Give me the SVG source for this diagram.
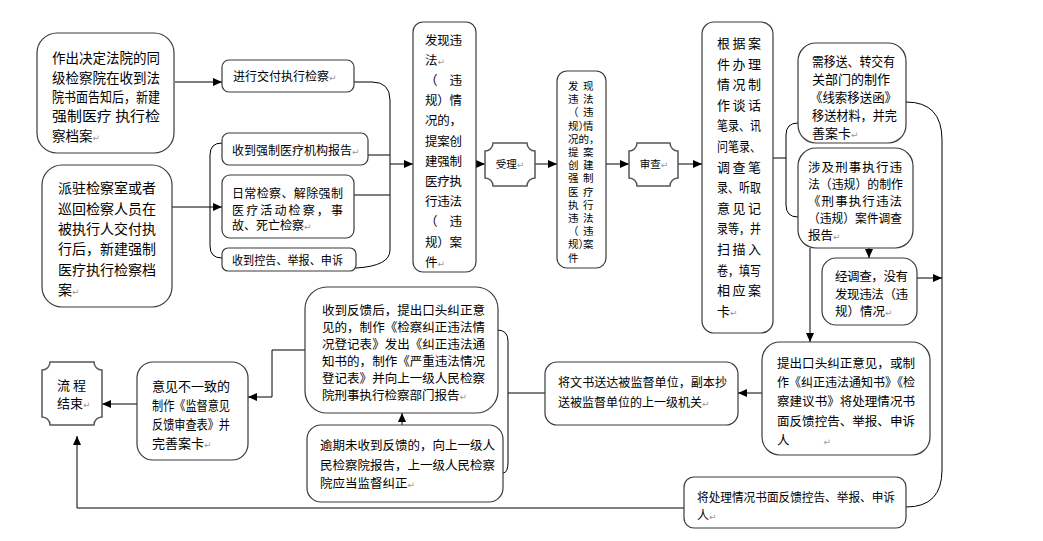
<svg xmlns="http://www.w3.org/2000/svg" width="1043" height="541" viewBox="0 0 1043 541">
<defs>
<marker id="ah" markerWidth="9" markerHeight="8" refX="9" refY="4" orient="auto" markerUnits="userSpaceOnUse"><path d="M0,0 L9,4 L0,8 Z" fill="#000"/></marker>
<style>
.box{fill:#fff;stroke:#3a3a3a;stroke-width:1.2}
.pq{fill:#fff;stroke:#555;stroke-width:1.5}
.t{font-family:"Noto Sans CJK SC","Noto Sans CJK JP",sans-serif;fill:#000}
.pm{fill:#9a9a9a;font-size:9px;font-family:"DejaVu Sans",sans-serif}
.c{fill:none;stroke:#000;stroke-width:1}
.a{marker-end:url(#ah)}
</style>
</defs>
<rect width="1043" height="541" fill="#fff"/>
<g id="connectors">
<path class="c a" d="M175,82 H222"/>
<path class="c a" d="M172,207 H222"/>
<path class="c" d="M222,143 Q210,143 210,155 V246 Q210,258 222,258"/>
<path class="c" d="M354,82 H372 Q390,82 390,100 V250 Q390,266 356,268"/>
<path class="c" d="M368,155 H390"/>
<path class="c" d="M354,195 H390"/>
<path class="c a" d="M390,164 H413"/>
<path class="c a" d="M476,164 H485"/>
<path class="c a" d="M535,164 H557"/>
<path class="c a" d="M606,164 H629"/>
<path class="c a" d="M678,164 H702"/>
<path class="c" d="M773,158 H786"/>
<path class="c" d="M798,123 Q786,123 786,135 V205 Q786,217 798,217"/>
<path class="c a" d="M869,248 V258"/>
<path class="c a" d="M810,248 V342"/>
<path class="c" d="M906,102 Q942,102 942,140 V470 Q942,507 906,507"/>
<path class="c a" d="M917,278 H942"/>
<path class="c a" d="M762,393 H738"/>
<path class="c" d="M545,393 H508"/>
<path class="c" d="M497,330 Q508,330 508,341 V462 Q508,473 503,473"/>
<path class="c a" d="M402,425 V413"/>
<path class="c a" d="M305,350 H272 V397 H248"/>
<path class="c a" d="M137,404 H102"/>
<path class="c a" d="M684,508 H77 V436"/>
</g>
<g id="n1">
<rect class="box" x="37" y="33" width="137" height="120" rx="20"/>
<text class="t" font-size="13.5" x="52" y="63" textLength="108" lengthAdjust="spacingAndGlyphs">作出决定法院的同</text>
<text class="t" font-size="13.5" x="52" y="83" textLength="108" lengthAdjust="spacingAndGlyphs">级检察院在收到法</text>
<text class="t" font-size="13.5" x="52" y="102" textLength="108" lengthAdjust="spacingAndGlyphs">院书面告知后，新建</text>
<text class="t" font-size="13.5" x="52" y="121" textLength="108" lengthAdjust="spacingAndGlyphs">强制医疗 执行检</text>
<text class="t" font-size="13.5" x="52" y="141">察档案<tspan class="pm">↵</tspan></text>
</g>
<g id="n2">
<rect class="box" x="42" y="165" width="130" height="142" rx="20"/>
<text class="t" font-size="14" x="58" y="193" textLength="98">派驻检察室或者</text>
<text class="t" font-size="14" x="58" y="213.5" textLength="98">巡回检察人员在</text>
<text class="t" font-size="14" x="58" y="234" textLength="98">被执行人交付执</text>
<text class="t" font-size="14" x="58" y="254" textLength="98">行后，新建强制</text>
<text class="t" font-size="14" x="58" y="274.5" textLength="98">医疗执行检察档</text>
<text class="t" font-size="14" x="58" y="295">案<tspan class="pm">↵</tspan></text>
</g>
<g id="n3">
<rect class="box" x="222" y="60" width="132" height="32" rx="7"/>
<text class="t" font-size="12" x="233" y="81">进行交付执行检察<tspan class="pm">↵</tspan></text>
</g>
<g id="n4">
<rect class="box" x="222" y="133" width="146" height="32" rx="7"/>
<text class="t" font-size="12" x="232" y="155">收到强制医疗机构报告<tspan class="pm">↵</tspan></text>
</g>
<g id="n5">
<rect class="box" x="222" y="175" width="132" height="63" rx="8"/>
<text class="t" font-size="12" x="232" y="197.5" textLength="111">日常检察、解除强制</text>
<text class="t" font-size="12" x="232" y="214.5" textLength="111">医疗活动检察，事</text>
<text class="t" font-size="12" x="232" y="229.5">故、死亡检察<tspan class="pm">↵</tspan></text>
</g>
<g id="n6">
<rect class="box" x="222" y="248" width="134" height="23" rx="6"/>
<text class="t" font-size="12" x="232" y="265" textLength="111" lengthAdjust="spacingAndGlyphs">收到控告、举报、申诉</text>
</g>
<g id="n7">
<rect class="box" x="413" y="22" width="63" height="250" rx="10"/>
<text class="t" font-size="12.5" x="425" y="44.5" textLength="37">发现违</text>
<text class="t" font-size="12.5" x="425" y="64.7">法<tspan class="pm">↵</tspan></text>
<text class="t" font-size="12.5" x="425 449.5" y="84.9">（违</text>
<text class="t" font-size="12.5" x="425" y="105.1" textLength="37">规）情</text>
<text class="t" font-size="12.5" x="425" y="125.3" textLength="37">况的，</text>
<text class="t" font-size="12.5" x="425" y="145.5" textLength="37">提案创</text>
<text class="t" font-size="12.5" x="425" y="165.7" textLength="37">建强制</text>
<text class="t" font-size="12.5" x="425" y="185.9" textLength="37">医疗执</text>
<text class="t" font-size="12.5" x="425" y="206.1" textLength="37">行违法</text>
<text class="t" font-size="12.5" x="425 449.5" y="226.3">（违</text>
<text class="t" font-size="12.5" x="425" y="246.5" textLength="37">规）案</text>
<text class="t" font-size="12.5" x="425" y="266.7">件<tspan class="pm">↵</tspan></text>
</g>
<g id="n8">
<path class="pq" d="M493,143 H527 A8,8 0 0 0 535,151 V178 A8,8 0 0 0 527,186 H493 A8,8 0 0 0 485,178 V151 A8,8 0 0 0 493,143 Z"/>
<text class="t" font-size="10.5" x="510" y="168" text-anchor="middle">受理<tspan class="pm" font-size="7">↵</tspan></text>
</g>
<g id="n9">
<rect class="box" x="557" y="71" width="49" height="197" rx="10"/>
<text class="t" font-size="10.5" x="568 583" y="90">发现</text>
<text class="t" font-size="10.5" x="568 583" y="103.2">违法</text>
<text class="t" font-size="10.5" x="568 583" y="116.4">（违</text>
<text class="t" font-size="10.5" x="568 578.5 583" y="129.6">规）情</text>
<text class="t" font-size="10.5" x="568 578.5 589" y="142.8">况的，</text>
<text class="t" font-size="10.5" x="568 583" y="156">提案</text>
<text class="t" font-size="10.5" x="568 583" y="169.2">创建</text>
<text class="t" font-size="10.5" x="568 583" y="182.4">强制</text>
<text class="t" font-size="10.5" x="568 583" y="195.6">医疗</text>
<text class="t" font-size="10.5" x="568 583" y="208.8">执行</text>
<text class="t" font-size="10.5" x="568 583" y="222">违法</text>
<text class="t" font-size="10.5" x="568 583" y="235.2">（违</text>
<text class="t" font-size="10.5" x="568 578.5 583" y="248.4">规）案</text>
<text class="t" font-size="10.5" x="568" y="261.6">件</text>
</g>
<g id="n10">
<path class="pq" d="M637,143 H670 A8,8 0 0 0 678,151 V178 A8,8 0 0 0 670,186 H637 A8,8 0 0 0 629,178 V151 A8,8 0 0 0 637,143 Z"/>
<text class="t" font-size="10.5" x="654" y="168" text-anchor="middle">审查<tspan class="pm" font-size="7">↵</tspan></text>
</g>
<g id="n11">
<rect class="box" x="702" y="22" width="71" height="311" rx="12"/>
<text class="t" font-size="13" x="717" y="48" textLength="44">根据案</text>
<text class="t" font-size="13" x="717" y="68.6" textLength="44">件办理</text>
<text class="t" font-size="13" x="717" y="89.2" textLength="44">情况制</text>
<text class="t" font-size="13" x="717" y="109.8" textLength="44">作谈话</text>
<text class="t" font-size="13" x="717" y="130.4" textLength="44" lengthAdjust="spacingAndGlyphs">笔录、讯</text>
<text class="t" font-size="13" x="717" y="151" textLength="44" lengthAdjust="spacingAndGlyphs">问笔录、</text>
<text class="t" font-size="13" x="717" y="171.6" textLength="44">调查笔</text>
<text class="t" font-size="13" x="717" y="192.2" textLength="44" lengthAdjust="spacingAndGlyphs">录、听取</text>
<text class="t" font-size="13" x="717" y="212.8" textLength="44">意见记</text>
<text class="t" font-size="13" x="717" y="233.4" textLength="44" lengthAdjust="spacingAndGlyphs">录等，并</text>
<text class="t" font-size="13" x="717" y="254" textLength="44">扫描入</text>
<text class="t" font-size="13" x="717" y="274.6" textLength="44" lengthAdjust="spacingAndGlyphs">卷，填写</text>
<text class="t" font-size="13" x="717" y="295.2" textLength="44">相应案</text>
<text class="t" font-size="13" x="717" y="315.8">卡<tspan class="pm">↵</tspan></text>
</g>
<g id="n12">
<rect class="box" x="798" y="43" width="108" height="100" rx="18"/>
<text class="t" font-size="13" x="812" y="66" textLength="83" lengthAdjust="spacingAndGlyphs">需移送、转交有</text>
<text class="t" font-size="13" x="812" y="84">关部门的制作</text>
<text class="t" font-size="13" x="810" y="102" textLength="87" lengthAdjust="spacingAndGlyphs">《线索移送函》</text>
<text class="t" font-size="13" x="812" y="120" textLength="85" lengthAdjust="spacingAndGlyphs">移送材料，并完</text>
<text class="t" font-size="13" x="812" y="138">善案卡<tspan class="pm">↵</tspan></text>
</g>
<g id="n13">
<rect class="box" x="798" y="148" width="115" height="100" rx="18"/>
<text class="t" font-size="12.5" x="808" y="172" textLength="94">涉及刑事执行违</text>
<text class="t" font-size="12.5" x="808" y="189" textLength="95" lengthAdjust="spacingAndGlyphs">法（违规）的制作</text>
<text class="t" font-size="12.5" x="808" y="206" textLength="94">《刑事执行违法</text>
<text class="t" font-size="12.5" x="808" y="223" textLength="94" lengthAdjust="spacingAndGlyphs">（违规）案件调查</text>
<text class="t" font-size="12.5" x="808" y="240">报告<tspan class="pm">↵</tspan></text>
</g>
<g id="n14">
<rect class="box" x="822" y="258" width="95" height="67" rx="14"/>
<text class="t" font-size="12.5" x="835" y="281" textLength="73">经调查，没有</text>
<text class="t" font-size="12.5" x="835" y="298.5" textLength="73">发现违法（违</text>
<text class="t" font-size="12.5" x="835" y="316">规）情况<tspan class="pm" font-size="7">↵</tspan></text>
</g>
<g id="n15">
<rect class="box" x="762" y="342" width="168" height="113" rx="18"/>
<text class="t" font-size="12.5" x="777" y="368" textLength="138" lengthAdjust="spacingAndGlyphs">提出口头纠正意见，或制</text>
<text class="t" font-size="12.5" x="777" y="387.2" textLength="138" lengthAdjust="spacingAndGlyphs">作《纠正违法通知书》《检</text>
<text class="t" font-size="12.5" x="777" y="406.4" textLength="138" lengthAdjust="spacingAndGlyphs">察建议书》将处理情况书</text>
<text class="t" font-size="12.5" x="777" y="425.6" textLength="138" lengthAdjust="spacingAndGlyphs">面反馈控告、举报、申诉</text>
<text class="t" font-size="12.5" x="777" y="444.8">人<tspan class="pm" font-size="7" dx="34">↵</tspan></text>
</g>
<g id="n16">
<rect class="box" x="545" y="362" width="193" height="63" rx="12"/>
<text class="t" font-size="12" x="558" y="387" textLength="169" lengthAdjust="spacingAndGlyphs">将文书送达被监督单位，副本抄</text>
<text class="t" font-size="12" x="558" y="407">送被监督单位的上一级机关<tspan class="pm">↵</tspan></text>
</g>
<g id="n17">
<rect class="box" x="305" y="287" width="193" height="126" rx="22"/>
<text class="t" font-size="12.5" x="322" y="315" textLength="163" lengthAdjust="spacingAndGlyphs">收到反馈后，提出口头纠正意</text>
<text class="t" font-size="12.5" x="322" y="332" textLength="163" lengthAdjust="spacingAndGlyphs">见的，制作《检察纠正违法情</text>
<text class="t" font-size="12.5" x="322" y="349" textLength="163" lengthAdjust="spacingAndGlyphs">况登记表》发出《纠正违法通</text>
<text class="t" font-size="12.5" x="322" y="366" textLength="163" lengthAdjust="spacingAndGlyphs">知书的，制作《严重违法情况</text>
<text class="t" font-size="12.5" x="322" y="383" textLength="163" lengthAdjust="spacingAndGlyphs">登记表》并向上一级人民检察</text>
<text class="t" font-size="12.5" x="322" y="400">院刑事执行检察部门报告<tspan class="pm">↵</tspan></text>
</g>
<g id="n18">
<rect class="box" x="307" y="425" width="196" height="77" rx="14"/>
<text class="t" font-size="12.5" x="320" y="450" textLength="175" lengthAdjust="spacingAndGlyphs">逾期未收到反馈的，向上一级人</text>
<text class="t" font-size="12.5" x="320" y="469.5" textLength="175" lengthAdjust="spacingAndGlyphs">民检察院报告，上一级人民检察</text>
<text class="t" font-size="12.5" x="320" y="488">院应当监督纠正<tspan class="pm">↵</tspan></text>
</g>
<g id="n19">
<rect class="box" x="137" y="362" width="111" height="98" rx="16"/>
<text class="t" font-size="13" x="152" y="391">意见不一致的</text>
<text class="t" font-size="13" x="152" y="410" textLength="78" lengthAdjust="spacingAndGlyphs">制作《监督意见</text>
<text class="t" font-size="13" x="152" y="429" textLength="78" lengthAdjust="spacingAndGlyphs">反馈审查表》并</text>
<text class="t" font-size="13" x="152" y="448">完善案卡<tspan class="pm">↵</tspan></text>
</g>
<g id="n20">
<path class="pq" d="M50,362 H94 A8,8 0 0 0 102,370 V417 A8,8 0 0 0 94,425 H50 A8,8 0 0 0 42,417 V370 A8,8 0 0 0 50,362 Z"/>
<text class="t" font-size="13" x="57" y="390">流 程</text>
<text class="t" font-size="13" x="57" y="408">结束<tspan class="pm">↵</tspan></text>
</g>
<g id="n21">
<rect class="box" x="684" y="477" width="222" height="51" rx="10"/>
<text class="t" font-size="12" x="697" y="502" textLength="198" lengthAdjust="spacingAndGlyphs">将处理情况书面反馈控告、举报、申诉</text>
<text class="t" font-size="12" x="697" y="520">人<tspan class="pm">↵</tspan></text>
</g>
</svg>
